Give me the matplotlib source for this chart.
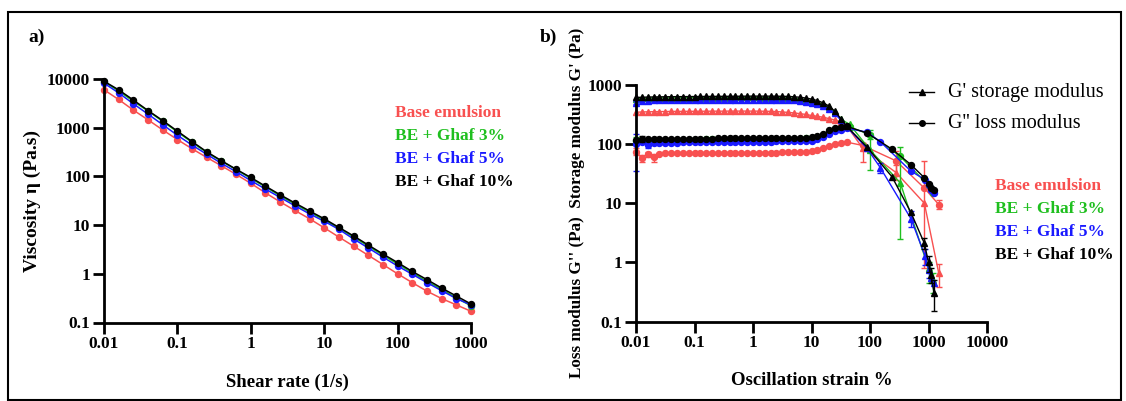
import matplotlib
matplotlib.use("Agg")
import numpy as np
from matplotlib import pyplot as plt
from matplotlib.lines import Line2D
from matplotlib.patches import Rectangle

# ---- panel a: viscosity curves ----
shear_rate = [0.01, 0.0158, 0.0251, 0.0398, 0.0631, 0.1, 0.158, 0.251, 0.398, 0.631,
              1, 1.58, 2.51, 3.98, 6.31, 10, 15.8, 25.1, 39.8, 63.1,
              100, 158, 251, 398, 631, 1000]
visc_base = [6000, 3800, 2300, 1450, 900, 570, 370, 245, 165, 110,
             72, 46, 30, 20, 13.5, 8.8, 5.7, 3.7, 2.4, 1.55,
             1.0, 0.66, 0.44, 0.31, 0.23, 0.17]
visc_g3 = [8800, 5700, 3500, 2200, 1350, 820, 500, 310, 205, 138,
           91, 61, 40, 27, 18.5, 12.8, 8.6, 5.7, 3.7, 2.4,
           1.6, 1.05, 0.7, 0.48, 0.32, 0.22]
visc_g5 = [8200, 5200, 3100, 1900, 1150, 700, 440, 285, 185, 125,
           82, 55, 37, 25, 17, 12, 8.2, 5.2, 3.4, 2.2,
           1.45, 0.98, 0.66, 0.45, 0.31, 0.23]
visc_g10 = [9000, 6000, 3700, 2250, 1400, 850, 520, 320, 210, 140,
            95, 63, 42, 28.5, 19.5, 13.5, 9.0, 6.0, 3.9, 2.55,
            1.7, 1.12, 0.76, 0.51, 0.35, 0.24]

# ---- panel b: amplitude sweep ----
strain_plateau = [0.01, 0.0126, 0.0158, 0.02, 0.0251, 0.0316, 0.0398, 0.0501, 0.0631, 0.0794,
                  0.1, 0.126, 0.158, 0.2, 0.251, 0.316, 0.398, 0.501, 0.631, 0.794,
                  1, 1.26, 1.58, 2, 2.51, 3.16, 3.98, 5.01, 6.31, 7.94,
                  10, 12.6, 15.8, 20, 25.1]

base_gp = [345, 350, 352, 354, 355, 356, 357, 358, 358, 359, 359, 360, 360, 361, 361, 361, 362, 362,
           362, 362, 362, 361, 360, 358, 355, 350, 344, 337, 328, 318, 305, 295, 285, 270, 255]
base_gpp = [75, 58, 68, 60, 68, 70, 70, 70, 70, 70, 70, 70, 71, 71, 71, 71, 71, 71,
            71, 72, 72, 72, 72, 72, 72, 73, 73, 73, 74, 75, 77, 80, 85, 92, 100]
base_tail_x = [31.6, 40, 75, 280, 850, 1500]
base_tail_gp = [240, 205, 85, 33, 10, 0.65]
base_tail_gpp = [106, 108, 95, 52, 18, 9.5]

g3_gp = [590, 596, 600, 602, 604, 605, 606, 607, 608, 609, 610, 611, 612, 613, 613, 614, 614, 615,
         615, 615, 615, 615, 614, 613, 611, 608, 603, 595, 583, 565, 542, 512, 472, 418, 350]
g3_gpp = [115, 118, 116, 117, 117, 118, 118, 118, 119, 119, 119, 119, 120, 120, 120, 120, 120, 121,
          121, 121, 121, 121, 122, 122, 122, 122, 123, 123, 124, 125, 127, 132, 142, 162, 180]
g3_tail_x = [31.6, 45, 100, 330, 1000, 1200]
g3_tail_gp = [265, 215, 80, 22, 0.8, 0.5]
g3_tail_gpp = [188, 195, 145, 62, 20, 15]

g5_gp = [500, 540, 545, 548, 550, 552, 553, 554, 555, 556, 557, 558, 559, 560, 561, 562, 563, 564,
         565, 565, 566, 566, 566, 565, 564, 562, 558, 551, 540, 525, 505, 480, 445, 395, 330]
g5_gpp = [100, 110, 96, 106, 104, 105, 106, 106, 107, 107, 107, 108, 108, 108, 108, 109, 109, 109,
          109, 110, 110, 110, 110, 110, 111, 111, 111, 112, 112, 113, 115, 120, 130, 148, 165]
g5_tail_x = [31.6, 40, 89, 150, 500, 870, 1000, 1100, 1250]
g5_tail_gp = [255, 195, 85, 40, 5.5, 1.3, 0.75, 0.55, 0.45]
g5_tail_gpp = [172, 185, 160, 110, 35, 25, 20, 16.5, 15]

g10_gp = [615, 620, 625, 628, 630, 632, 634, 635, 636, 637, 638, 639, 640, 641, 642, 643, 644, 645,
          646, 647, 648, 648, 648, 647, 646, 644, 640, 632, 620, 602, 578, 545, 500, 440, 360]
g10_gpp = [118, 122, 120, 121, 120, 121, 122, 122, 123, 123, 123, 124, 124, 124, 125, 125, 125, 125,
           126, 126, 126, 126, 127, 127, 127, 127, 128, 128, 128, 129, 131, 136, 148, 170, 185]
g10_tail_x = [31.6, 40, 89, 238, 500, 850, 1000, 1100, 1250]
g10_tail_gp = [270, 200, 89, 28, 7, 2.1, 1.0, 0.6, 0.3]
g10_tail_gpp = [192, 200, 154, 82, 45, 27, 21, 18, 16.5]

# error bars (strain, low, high) where they are visible
base_gp_err = ([75, 280, 850, 1500], [50, 25, 0.8, 0.38], [105, 45, 52, 0.95])
base_gpp_err = ([0.01, 0.0126, 0.0158, 0.02, 280, 1500], [65, 50, 60, 50, 30, 8], [85, 65, 75, 68, 78, 11.5])
g3_gp_err = ([100, 330, 1000, 1200], [37, 2.5, 0.45, 0.3], [155, 90, 1.0, 0.65])
g3_gpp_err = ([0.01, 45, 100], [100, 170, 120], [130, 210, 170])
g5_gp_err = ([0.01, 150, 500, 870, 1000], [470, 33, 4, 0.9, 0.55], [540, 48, 7.5, 1.7, 0.95])
g5_gpp_err = ([0.01, 0.0158], [35, 85], [150, 105])
g10_gp_err = ([850, 1000, 1100, 1250], [1.7, 0.7, 0.45, 0.15], [2.6, 1.3, 0.8, 0.5])
g10_gpp_err = ([0.0126], [110], [135])

labels = ["Base emulsion", "BE + Ghaf 3%", "BE + Ghaf 5%", "BE + Ghaf 10%"]
colors = ["#f85050", "#1fbf1f", "#1a1aff", "#000000"]

plt.rcParams["font.family"] = "Liberation Serif"
plt.rcParams["font.weight"] = "bold"

fig = plt.figure(figsize=(11.26, 4.01), dpi=100)
W, H = 1126, 401


def style_axis(ax):
    ax.set_xscale("log")
    ax.set_yscale("log")
    for s in ["top", "right"]:
        ax.spines[s].set_visible(False)
    for s in ["left", "bottom"]:
        ax.spines[s].set_linewidth(2)
    ax.tick_params(which="major", length=8, width=2, labelsize=12.5, pad=2)
    ax.tick_params(which="minor", length=0)


# panel a
ax_a = fig.add_axes([104 / W, (H - 322.5) / H, 367 / W, 243.5 / H])
for vals, c in zip([visc_base, visc_g3, visc_g5, visc_g10], colors):
    ax_a.plot(shear_rate, vals, color=c, lw=1.1, marker="o", ms=4.3, clip_on=False)
ax_a.set_xlim(0.01, 1000)
ax_a.set_ylim(0.1, 10000)
style_axis(ax_a)
ax_a.set_xticks([0.01, 0.1, 1, 10, 100, 1000])
ax_a.set_xticklabels(["0.01", "0.1", "1", "10", "100", "1000"], fontweight="bold")
ax_a.set_yticks([0.1, 1, 10, 100, 1000, 10000])
ax_a.set_yticklabels(["0.1", "1", "10", "100", "1000", "10000"], fontweight="bold")
ax_a.set_xlabel("Shear rate (1/s)", fontsize=13.5, fontweight="bold", labelpad=15)
ax_a.set_ylabel("Viscosity η (Pa.s)", fontsize=14, fontweight="bold", labelpad=4)

for i, (lab, c) in enumerate(zip(labels, colors)):
    fig.text(395 / W, 1 - (113 + 23 * i) / H, lab, color=c, fontsize=12.5,
             fontweight="bold", va="center", ha="left")

# panel b
ax_b = fig.add_axes([636 / W, (H - 321.5) / H, 351 / W, 236.5 / H])
series_b = [
    (base_gp, base_gpp, base_tail_x, base_tail_gp, base_tail_gpp, base_gp_err, base_gpp_err),
    (g3_gp, g3_gpp, g3_tail_x, g3_tail_gp, g3_tail_gpp, g3_gp_err, g3_gpp_err),
    (g5_gp, g5_gpp, g5_tail_x, g5_tail_gp, g5_tail_gpp, g5_gp_err, g5_gpp_err),
    (g10_gp, g10_gpp, g10_tail_x, g10_tail_gp, g10_tail_gpp, g10_gp_err, g10_gpp_err),
]
for (gp, gpp, tx, tgp, tgpp, egp, egpp), c in zip(series_b, colors):
    x = strain_plateau + tx
    for yv, mk, err in [(gp + tgp, "^", egp), (gpp + tgpp, "o", egpp)]:
        ax_b.plot(x, yv, color=c, lw=1.0, marker=mk, ms=4.3, clip_on=False)
        ex, lo, hi = err
        ey = [yv[x.index(v)] for v in ex]
        yerr = [np.array(ey) - np.array(lo), np.array(hi) - np.array(ey)]
        ax_b.errorbar(ex, ey, yerr=yerr, fmt="none", ecolor=c, elinewidth=1,
                      capsize=2.5, capthick=1, clip_on=False)
ax_b.set_xlim(0.01, 10000)
ax_b.set_ylim(0.1, 1000)
style_axis(ax_b)
ax_b.set_xticks([0.01, 0.1, 1, 10, 100, 1000, 10000])
ax_b.set_xticklabels(["0.01", "0.1", "1", "10", "100", "1000", "10000"], fontweight="bold")
ax_b.set_yticks([0.1, 1, 10, 100, 1000])
ax_b.set_yticklabels(["0.1", "1", "10", "100", "1000"], fontweight="bold")
ax_b.set_xlabel("Oscillation strain %", fontsize=13.5, fontweight="bold", labelpad=15)
ax_b.set_ylabel("Loss modulus G'' (Pa)  Storage modulus G' (Pa)", fontsize=12.3,
                fontweight="bold", labelpad=2)

# G' / G'' key
for i, (mk, lab) in enumerate([("^", "G' storage modulus"), ("o", "G'' loss modulus")]):
    yk = 1 - (92 + 31 * i) / H
    fig.add_artist(Line2D([909 / W, 921.5 / W, 934 / W], [yk, yk, yk], transform=fig.transFigure,
                          color="black", lw=1, marker=mk, ms=4, markevery=[1]))
    fig.text(948 / W, yk, lab, fontsize=14.5, fontweight="normal", va="center", ha="left")

for i, (lab, c) in enumerate(zip(labels, colors)):
    fig.text(995 / W, 1 - (186 + 23 * i) / H, lab, color=c, fontsize=12.5,
             fontweight="bold", va="center", ha="left")

fig.text(28 / W, 1 - 37 / H, "a)", fontsize=14, fontweight="bold", va="center")
fig.text(540 / W, 1 - 37 / H, "b)", fontsize=14, fontweight="bold", va="center")

fig.add_artist(Rectangle((8 / W, 1 / H), 1113 / W, 388 / H, transform=fig.transFigure,
                         fill=False, edgecolor="black", lw=1.5))

fig.savefig("out.png", dpi=100)
